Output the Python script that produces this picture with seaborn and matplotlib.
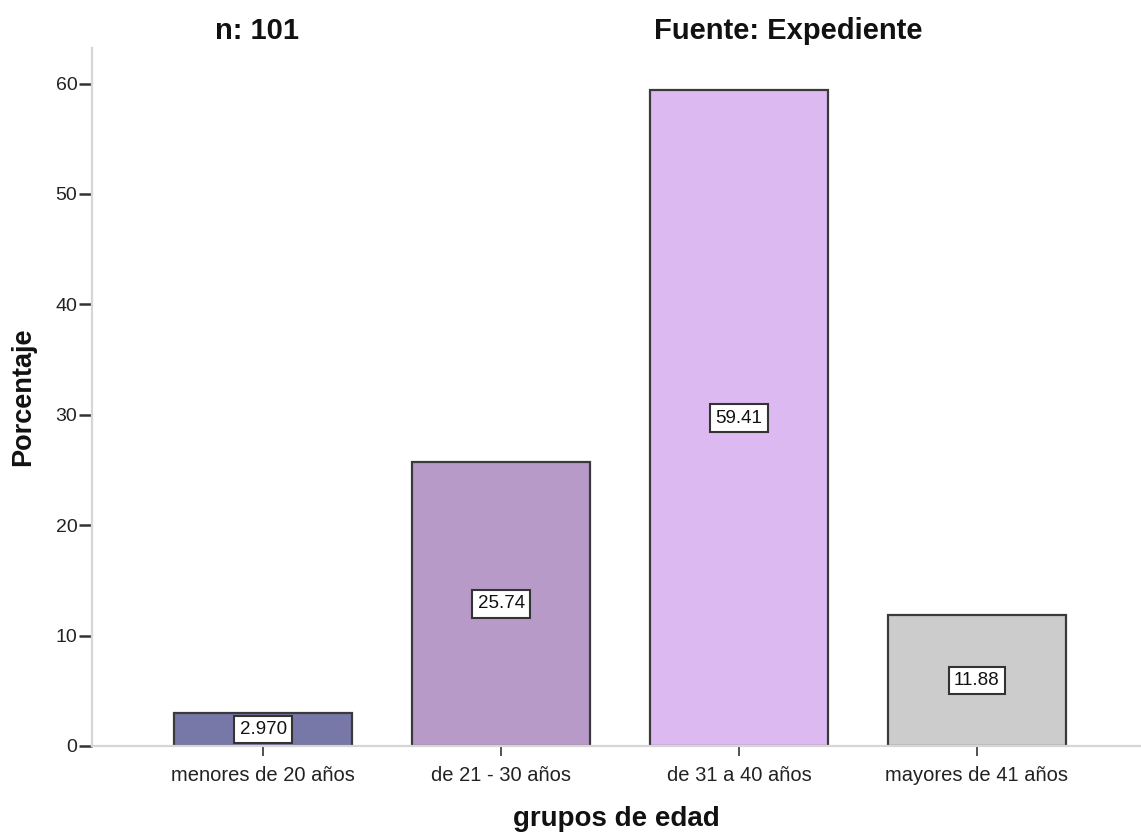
import matplotlib
matplotlib.use("Agg")
import matplotlib.pyplot as plt
import seaborn as sns
import pandas as pd

# Age groups and their share of the 101 records
categories = ["menores de 20 años", "de 21 - 30 años", "de 31 a 40 años", "mayores de 41 años"]
percentages = [2.970, 25.74, 59.41, 11.88]
bar_colors = ["#7878a8", "#b89ac8", "#ddb9f1", "#cccccc"]
y_ticks = [0, 10, 20, 30, 40, 50, 60]

sns.set_theme(style="white")
plt.rcParams["font.family"] = ["Liberation Sans", "DejaVu Sans"]
plt.rcParams["text.color"] = "#111111"
plt.rcParams["axes.labelcolor"] = "#111111"

df = pd.DataFrame({"grupo": categories, "pct": percentages})

fig = plt.figure(figsize=(11.41, 8.32), dpi=100)
ax = fig.add_axes([0.0806, 0.1034, 0.9194, 0.8386])

sns.barplot(data=df, x="grupo", y="pct", hue="grupo", palette=bar_colors,
            order=categories, hue_order=categories, width=0.75, saturation=1,
            edgecolor="#3a3a3a", linewidth=1.6, legend=False, ax=ax)

# value boxes centred at half the bar height
for i, v in enumerate(percentages):
    ax.text(i, v / 2, f"{v:#.4g}", ha="center", va="center", fontsize=13.5,
            color="#111111",
            bbox=dict(boxstyle="square,pad=0.28", facecolor="white",
                      edgecolor="#333333", linewidth=1.5))

ax.set_xlim(-0.72, 3.69)
ax.set_ylim(0, 63.2)
ax.set_yticks(y_ticks)
ax.set_yticklabels([str(t) for t in y_ticks], fontsize=14, color="#222222")
ax.tick_params(axis="x", labelsize=14.5, labelcolor="#222222")

ax.tick_params(axis="y", which="both", left=True, direction="out", length=9.5,
               width=1.8, color="#333333", pad=1)
ax.tick_params(axis="x", which="both", bottom=True, direction="out", length=7.5,
               width=1.2, color="#333333", pad=7)

for side in ["top", "right"]:
    ax.spines[side].set_visible(False)
for side in ["left", "bottom"]:
    ax.spines[side].set_color("#d6d6d6")
    ax.spines[side].set_linewidth(1.6)

ax.set_xlabel("grupos de edad", fontsize=20, fontweight="bold", labelpad=15)
ax.set_ylabel("Porcentaje", fontsize=19.5, fontweight="bold", labelpad=14)

fig.text(0.2255, 0.963, "n: 101", ha="center", va="center",
         fontsize=21, fontweight="bold")
fig.text(0.6905, 0.963, "Fuente: Expediente", ha="center", va="center",
         fontsize=21, fontweight="bold")

fig.savefig("out.png", dpi=100, facecolor="white")
